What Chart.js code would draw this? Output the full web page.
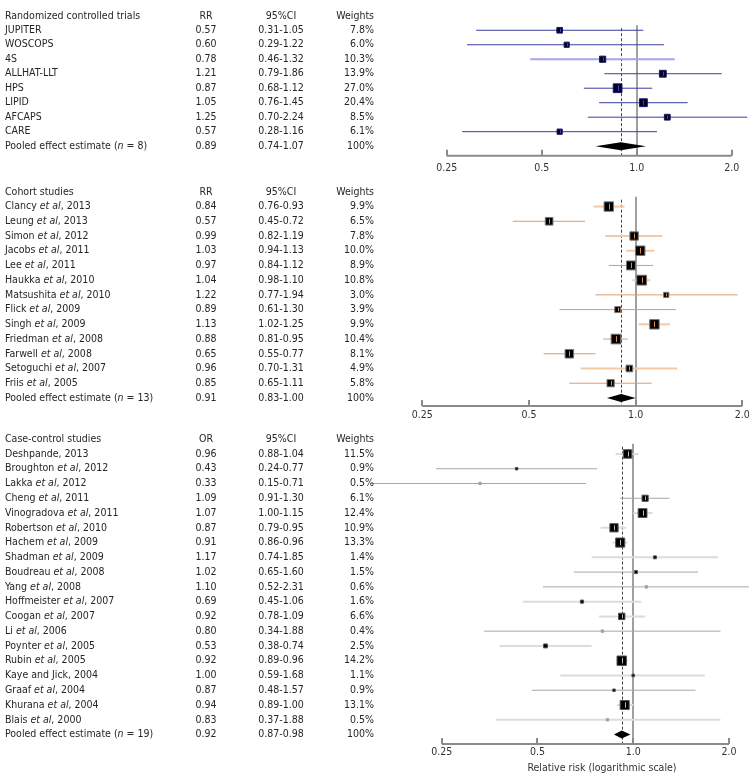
<!DOCTYPE html>
<html lang="en">
<head>
<meta charset="UTF-8">
<title>Forest plot</title>
<script src="https://cdn.jsdelivr.net/npm/chart.js"></script>
<style>
  body{margin:0; background:#fff;}
  #wrap{position:relative; width:755px; height:780px;}
  #wrap canvas{position:absolute; left:0;}
</style>
</head>
<body>
<div id="wrap">
  <canvas id="rctChart" width="755" height="180" style="top:0px"></canvas>
  <canvas id="cohortChart" width="755" height="245" style="top:180px"></canvas>
  <canvas id="ccChart" width="755" height="355" style="top:425px"></canvas>
</div>
<script>
// ---- data ----
// randomized controlled trials
const rctStudies = ['JUPITER','WOSCOPS','4S','ALLHAT-LLT','HPS','LIPID','AFCAPS','CARE'];
const rctRR = [0.57,0.60,0.78,1.21,0.87,1.05,1.25,0.57];
const rctLo = [0.31,0.29,0.46,0.79,0.68,0.76,0.70,0.28];
const rctHi = [1.05,1.22,1.32,1.86,1.12,1.45,2.24,1.16];
const rctWeights = [7.8,6.0,10.3,13.9,27.0,20.4,8.5,6.1];
const rctPooled = [0.89,0.74,1.07];

// cohort studies
const cohortStudies = ['Clancy _et al_, 2013','Leung _et al_, 2013','Simon _et al_, 2012','Jacobs _et al_, 2011',
  'Lee _et al_, 2011','Haukka _et al_, 2010','Matsushita _et al_, 2010','Flick _et al_, 2009','Singh _et al_, 2009',
  'Friedman _et al_, 2008','Farwell _et al_, 2008','Setoguchi _et al_, 2007','Friis _et al_, 2005'];
const cohortRR = [0.84,0.57,0.99,1.03,0.97,1.04,1.22,0.89,1.13,0.88,0.65,0.96,0.85];
const cohortLo = [0.76,0.45,0.82,0.94,0.84,0.98,0.77,0.61,1.02,0.81,0.55,0.70,0.65];
const cohortHi = [0.93,0.72,1.19,1.13,1.12,1.10,1.94,1.30,1.25,0.95,0.77,1.31,1.11];
const cohortWeights = [9.9,6.5,7.8,10.0,8.9,10.8,3.0,3.9,9.9,10.4,8.1,4.9,5.8];
const cohortPooled = [0.91,0.83,1.00];

// case-control studies
const ccStudies = ['Deshpande, 2013','Broughton _et al_, 2012','Lakka _et al_, 2012','Cheng _et al_, 2011',
  'Vinogradova _et al_, 2011','Robertson _et al_, 2010','Hachem _et al_, 2009','Shadman _et al_, 2009',
  'Boudreau _et al_, 2008','Yang _et al_, 2008','Hoffmeister _et al_, 2007','Coogan _et al_, 2007','Li _et al_, 2006',
  'Poynter _et al_, 2005','Rubin _et al_, 2005','Kaye and Jick, 2004','Graaf _et al_, 2004','Khurana _et al_, 2004',
  'Blais _et al_, 2000'];
const ccOR = [0.96,0.43,0.33,1.09,1.07,0.87,0.91,1.17,1.02,1.10,0.69,0.92,0.80,0.53,0.92,1.00,0.87,0.94,0.83];
const ccLo = [0.88,0.24,0.15,0.91,1.00,0.79,0.86,0.74,0.65,0.52,0.45,0.78,0.34,0.38,0.89,0.59,0.48,0.89,0.37];
const ccHi = [1.04,0.77,0.71,1.30,1.15,0.95,0.96,1.85,1.60,2.31,1.06,1.09,1.88,0.74,0.96,1.68,1.57,1.00,1.88];
const ccWeights = [11.5,0.9,0.5,6.1,12.4,10.9,13.3,1.4,1.5,0.6,1.6,6.6,0.4,2.5,14.2,1.1,0.9,13.1,0.5];
const ccPooled = [0.92,0.87,0.98];

const xTicks = [0.25,0.5,1.0,2.0];

// ---- styles (line shade per study: 'd' thin/dark, 'l' thick/light) ----
const rctShade = 'ddlddddd';
const cohortShade = 'ldlldlddlddld';
const ccShade = 'ldddllllddlldldldll';

const FONT = "10.5px 'DejaVu Sans Condensed', 'Liberation Sans', sans-serif";
const FONT_I = "italic 10.5px 'DejaVu Sans Condensed', 'Liberation Sans', sans-serif";

// per-canvas panel settings, read by the plugin
const panels = {};

function drawRich(ctx, text, x, y){
  const parts = text.split('_');
  let cx = x;
  parts.forEach((p, k) => {
    ctx.font = k % 2 ? FONT_I : FONT;
    ctx.fillText(p, cx, y);
    cx += ctx.measureText(p).width;
  });
  ctx.font = FONT;
}

const forestPlugin = {
  id: 'forest',
  beforeDatasetsDraw(chart){
    const c = panels[chart.canvas.id];
    const ctx = chart.ctx, xs = chart.scales.x, ys = chart.scales.y;
    const top = ys.getPixelForValue(c.refTop), bot = chart.chartArea.bottom;
    ctx.save();
    ctx.strokeStyle = '#a0a0a0'; ctx.lineWidth = 2;
    const x1 = Math.round(xs.getPixelForValue(1.0));
    ctx.beginPath(); ctx.moveTo(x1, top); ctx.lineTo(x1, bot); ctx.stroke();
    ctx.strokeStyle = '#444'; ctx.lineWidth = 1; ctx.setLineDash([3,2]);
    const xp = Math.round(xs.getPixelForValue(c.pooled[0])) + 0.5;
    ctx.beginPath(); ctx.moveTo(xp, top + 3); ctx.lineTo(xp, bot); ctx.stroke();
    ctx.restore();
  },
  afterDatasetsDraw(chart){
    const c = panels[chart.canvas.id];
    const ctx = chart.ctx, xs = chart.scales.x, ys = chart.scales.y;
    const n = c.labels.length;
    ctx.save();
    // centre ticks in the squares
    ctx.strokeStyle = c.tickColor; ctx.lineWidth = 1;
    c.est.forEach((v, i) => {
      const s = c.side(c.weights[i]);
      if (s < 5) return;
      const px = Math.round(xs.getPixelForValue(v)) + 0.5, py = ys.getPixelForValue(i + 1);
      ctx.beginPath(); ctx.moveTo(px, py - s * 0.3); ctx.lineTo(px, py + s * 0.3); ctx.stroke();
    });
    // pooled diamond
    const py = ys.getPixelForValue(n + 1);
    ctx.fillStyle = '#000';
    ctx.beginPath();
    ctx.moveTo(xs.getPixelForValue(c.pooled[1]), py);
    ctx.lineTo(xs.getPixelForValue(c.pooled[0]), py - 4);
    ctx.lineTo(xs.getPixelForValue(c.pooled[2]), py);
    ctx.lineTo(xs.getPixelForValue(c.pooled[0]), py + 4);
    ctx.closePath(); ctx.fill();
    // axis
    const ay = chart.chartArea.bottom;
    ctx.strokeStyle = '#8a8a8a'; ctx.lineWidth = 2;
    ctx.beginPath();
    ctx.moveTo(chart.chartArea.left, ay); ctx.lineTo(chart.chartArea.right, ay);
    xTicks.forEach(t => {
      const tx = Math.round(xs.getPixelForValue(t));
      ctx.moveTo(tx, ay); ctx.lineTo(tx, ay - 6);
    });
    ctx.stroke();
    ctx.fillStyle = '#333'; ctx.font = FONT; ctx.textAlign = 'center'; ctx.textBaseline = 'middle';
    xTicks.forEach(t => ctx.fillText(t.toFixed(t < 0.3 ? 2 : 1), xs.getPixelForValue(t), ay + c.tickGap));
    if (c.xTitle) ctx.fillText(c.xTitle, 602, ay + 24);
    // text table
    ctx.fillStyle = '#262626';
    const rowY = r => ys.getPixelForValue(r);
    ctx.textAlign = 'left'; drawRich(ctx, c.title, 5, rowY(0));
    ctx.textAlign = 'center'; ctx.fillText(c.effect, 206, rowY(0)); ctx.fillText('95%CI', 281, rowY(0));
    ctx.textAlign = 'right'; ctx.fillText('Weights', 374, rowY(0));
    const rows = c.labels.map((l, i) => [l, c.est[i], c.lo[i], c.hi[i], c.weights[i].toFixed(1) + '%']);
    rows.push(['Pooled effect estimate (_n_ = ' + n + ')', c.pooled[0], c.pooled[1], c.pooled[2], '100%']);
    rows.forEach((r, i) => {
      const y = rowY(i + 1);
      ctx.textAlign = 'left'; drawRich(ctx, r[0], 5, y);
      ctx.textAlign = 'center';
      ctx.fillText(r[1].toFixed(2), 206, y);
      ctx.fillText(r[2].toFixed(2) + '-' + r[3].toFixed(2), 281, y);
      ctx.textAlign = 'right'; ctx.fillText(r[4], 374, y);
    });
    ctx.restore();
  }
};

function forest(id, cfg){
  panels[id] = cfg;
  const H = document.getElementById(id).height;
  const yMin = -cfg.headerY / cfg.step;
  const yMax = (cfg.axisY - cfg.headerY) / cfg.step;
  const squares = {
    data: cfg.est.map((v, i) => ({x: v, y: i + 1})),
    pointStyle: 'rect',
    pointRadius: cfg.weights.map(w => cfg.side(w) / Math.SQRT2),
    backgroundColor: cfg.weights.map(w => w < 0.8 ? '#999' : cfg.squareColor),
    borderColor: cfg.weights.map(w => w < 0.8 ? '#aaa' : cfg.squareEdge),
    borderWidth: 1,
    clip: false,
    order: 0
  };
  const bars = cfg.est.map((v, i) => {
    const light = cfg.shade[i] === 'l';
    return {
      data: [{x: cfg.lo[i], y: i + 1}, {x: cfg.hi[i], y: i + 1}],
      showLine: true,
      borderColor: light ? cfg.lightColor : cfg.darkColor,
      borderWidth: light ? 2 : 1,
      pointRadius: 0,
      clip: false,
      order: 1
    };
  });
  return new Chart(document.getElementById(id), {
    type: 'scatter',
    data: {datasets: [squares, ...bars]},
    options: {
      responsive: false,
      animation: false,
      layout: {padding: {left: cfg.x0, right: 755 - cfg.x1, top: 0, bottom: H - cfg.axisY}},
      scales: {
        x: {type: 'logarithmic', min: 0.25, max: 2.0, display: false},
        y: {type: 'linear', reverse: true, min: yMin, max: yMax, display: false}
      },
      plugins: {legend: {display: false}, tooltip: {enabled: false}}
    },
    plugins: [forestPlugin]
  });
}

forest('rctChart', {
  title: 'Randomized controlled trials', effect: 'RR',
  labels: rctStudies, est: rctRR, lo: rctLo, hi: rctHi, weights: rctWeights, pooled: rctPooled,
  shade: rctShade, darkColor: '#3c3ca0', lightColor: '#a4a4f0', squareColor: '#000028', squareEdge: '#1a1a60',
  tickColor: '#4040c0', side: w => 2 + 1.3 * Math.sqrt(w),
  headerY: 9, step: 15.19, axisY: 155.7, x0: 446.7, x1: 731.7, refTop: 0.65, tickGap: 13
});

forest('cohortChart', {
  title: 'Cohort studies', effect: 'RR',
  labels: cohortStudies, est: cohortRR, lo: cohortLo, hi: cohortHi, weights: cohortWeights, pooled: cohortPooled,
  shade: cohortShade, darkColor: '#e09a68', lightColor: '#f6c9a6', squareColor: '#000', squareEdge: '#777',
  tickColor: '#e08850', side: w => 3 * Math.sqrt(w),
  headerY: 4, step: 15.26, axisY: 226, x0: 422.3, x1: 742.3, refTop: 0.33, tickGap: 9
});

forest('ccChart', {
  title: 'Case-control studies', effect: 'OR',
  labels: ccStudies, est: ccOR, lo: ccLo, hi: ccHi, weights: ccWeights, pooled: ccPooled,
  shade: ccShade, darkColor: '#a8a8a8', lightColor: '#dcdcdc', squareColor: '#000', squareEdge: '#555',
  tickColor: '#bbb', side: w => Math.max(2.5, 2.5 * Math.sqrt(w)),
  headerY: 6.7, step: 15.13, axisY: 319, x0: 441.7, x1: 729, refTop: 0.3, tickGap: 8,
  xTitle: 'Relative risk (logarithmic scale)'
});
</script>
</body>
</html>
